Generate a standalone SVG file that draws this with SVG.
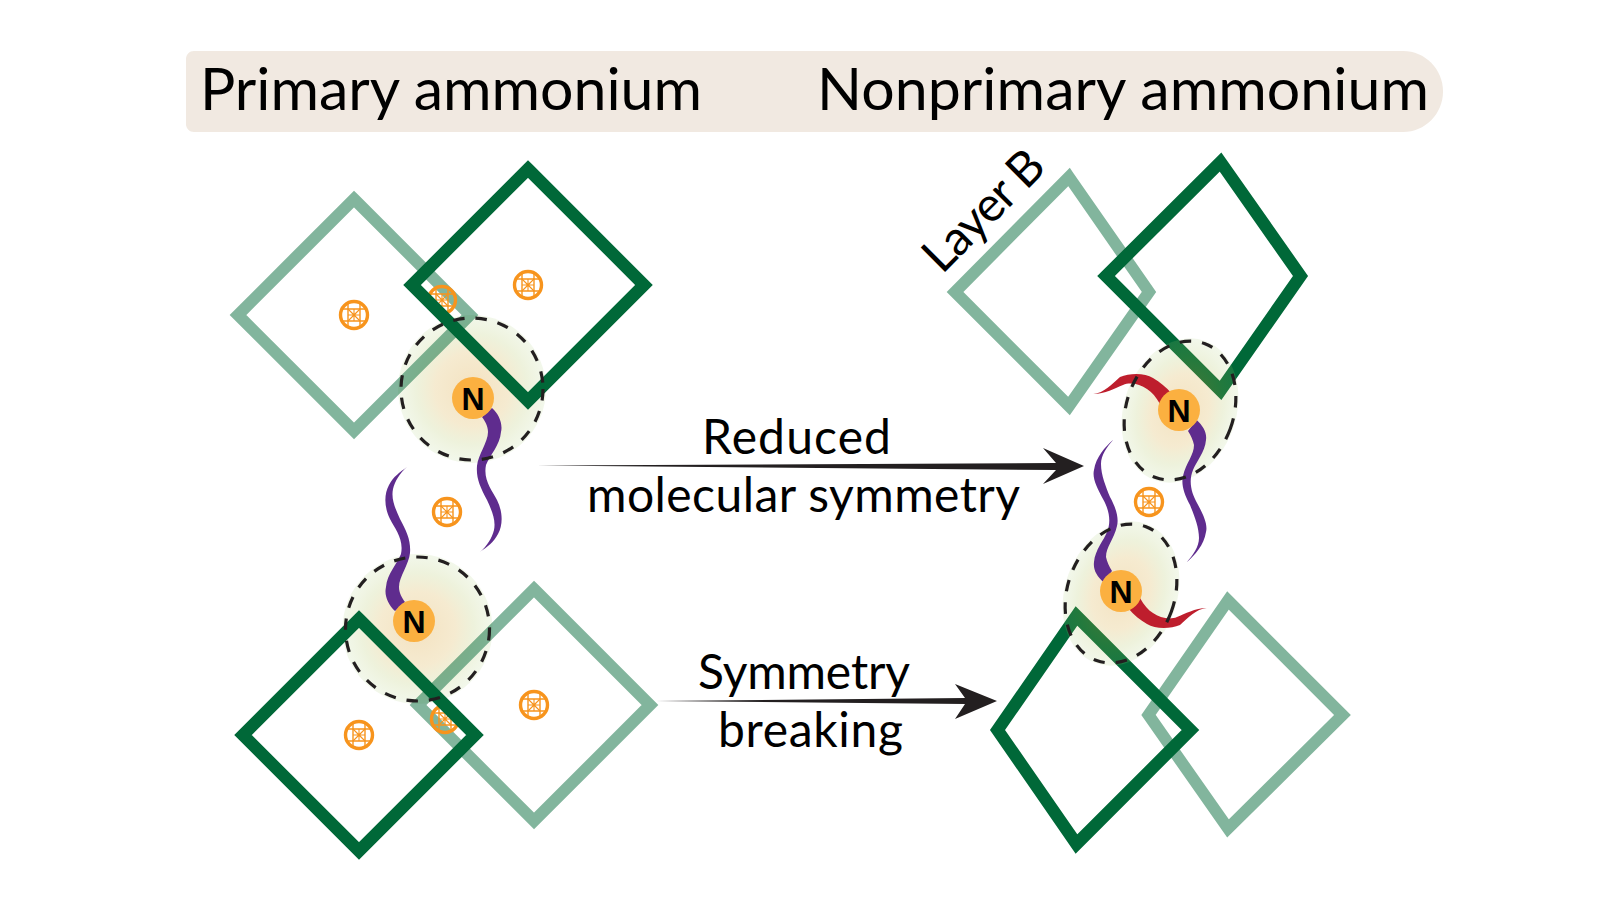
<svg xmlns="http://www.w3.org/2000/svg" xmlns:xlink="http://www.w3.org/1999/xlink" width="1601" height="901" viewBox="0 0 1601 901">
<style>
text{font-family:"Lato","Open Sans","Liberation Sans",sans-serif;fill:#000}
.hd{font-size:59px}
.lb{font-size:48px}
text.n{font-family:"Liberation Sans",Arial,sans-serif;font-weight:700;font-size:32px;text-anchor:middle}
.dk{fill:none;stroke:#006838;stroke-width:12.4;stroke-miterlimit:10}
.lt{fill:none;stroke:#006838;stroke-opacity:.49;stroke-width:11.8;stroke-miterlimit:10}
.dash{fill:none;stroke:#231f20;stroke-width:3.2;stroke-dasharray:11.5 11}
.halo{fill:url(#glow)}
.nb{fill:#fbb040}
.pu{fill:#5f2c8e}
.re{fill:#be1e2d}
.arr{fill:#231f20}
</style>
<defs>
<radialGradient id="glow" cx=".5" cy=".5" r=".5">
<stop offset="0" stop-color="rgb(215,150,30)" stop-opacity=".28"/>
<stop offset=".5" stop-color="rgb(215,170,60)" stop-opacity=".24"/>
<stop offset=".75" stop-color="rgb(170,190,80)" stop-opacity=".2"/>
<stop offset="1" stop-color="rgb(170,205,120)" stop-opacity=".15"/>
</radialGradient>
<g id="ball" fill="none" stroke="#f7941d">
<circle r="13.500" stroke-width="3.400"/>
<path stroke-width="1.400" d="M-6-12V12M6-12V12M-12-6H12M-12 6H12"/>
<path stroke-width="1.100" d="M0-6V6M-6 0H6M-6-6L6 6M-6 6L6-6"/>
</g>
<path id="tailL" d="M492 408C499 414 503 424 501 432C500 445 490 455 486 465C483 480 492 490 497 500C503 512 503 525 498 534C494 542 487 547 480 552C487 546 492 538 494 530C496 520 492 511 487 500C480 487 476 478 477 466C478 455 488 442 488 432C488 426 485 421 482 417Z"/>
<path id="tailR" d="M1196.700 420C1203 426 1207 432 1206 440C1205 452 1196 462 1193 470C1188 482 1192 494 1197 503C1203 514 1208 524 1206 532C1204 545 1195 555 1186.700 562.300C1193 555 1199 547 1199 538C1199 527 1194 515 1190 505C1184 494 1181 484 1183 476C1186 463 1194 455 1194 445C1193 440 1191 436 1188 431Z"/>
<path id="redR" d="M1093.300 394C1104 393 1112 384 1120 377C1130 373 1145 373 1153 378C1160 382 1166 387 1172 394L1160 404C1156 397 1152 392 1147 389C1140 384 1130 382 1123 385C1115 388 1105 394 1093.300 394Z"/>
</defs>

<g id="header">
<path fill="#f1e9e1" d="M194 51H1403C1425 51 1443 69 1443 91.500C1443 114 1425 132 1403 132H194C189.500 132 186 128.500 186 124V59C186 54.500 189.500 51 194 51Z"/>
<text class="hd" x="200" y="110" textLength="502">Primary ammonium</text>
<text class="hd" x="817" y="110" textLength="612">Nonprimary ammonium</text>
</g>

<g id="primary-top">
<circle class="halo" cx="472" cy="389" r="74"/>
<use xlink:href="#ball" href="#ball" x="354" y="315"/>
<use xlink:href="#ball" href="#ball" x="528" y="285"/>
<path class="lt" d="M354 199L470 315L354 431L238 315Z"/>
<use xlink:href="#ball" href="#ball" x="442" y="300"/>
<path class="dk" d="M528 169L644 285L528 401L412 285Z"/>
<use xlink:href="#tailL" href="#tailL" class="pu"/>
<circle class="dash" cx="472" cy="389" r="71"/>
<circle class="nb" cx="473" cy="398" r="21"/>
<text class="n" x="473" y="410">N</text>
</g>

<g id="primary-bottom">
<circle class="halo" cx="417.500" cy="629" r="75"/>
<use xlink:href="#ball" href="#ball" x="359" y="735"/>
<use xlink:href="#ball" href="#ball" x="534" y="705"/>
<path class="lt" d="M534 589L650 705L534 821L418 705Z"/>
<use xlink:href="#ball" href="#ball" x="445" y="719"/>
<path class="dk" d="M359 619L475 735L359 851L243 735Z"/>
<use xlink:href="#tailL" href="#tailL" class="pu" transform="rotate(180 443.500 509.500)"/>
<circle class="dash" cx="417.500" cy="629" r="72"/>
<circle class="nb" cx="414" cy="621" r="21"/>
<text class="n" x="414" y="633">N</text>
</g>

<use id="ion-left" xlink:href="#ball" href="#ball" x="447" y="512"/>

<g id="nonprimary-top">
<path class="lt" d="M1069 177L1149 292L1069 406L955 292Z"/>
<path class="dk" d="M1220.500 162L1300.500 276L1220.500 390.500L1106 276Z"/>
<ellipse class="halo" cx="1180" cy="410.500" rx="56" ry="74" transform="rotate(20 1180 410.500)"/>
<use xlink:href="#tailR" href="#tailR" class="pu"/>
<use xlink:href="#redR" href="#redR" class="re"/>
<ellipse class="dash" cx="1180" cy="410.500" rx="53.500" ry="71.300" transform="rotate(20 1180 410.500)"/>
<circle class="nb" cx="1179" cy="410" r="21"/>
<text class="n" x="1179" y="422">N</text>
<text class="lb" x="942" y="275" textLength="150" transform="rotate(-45 942 275)">Layer B</text>
</g>

<g id="nonprimary-bottom">
<path class="lt" d="M1228 600.500L1342.500 715L1228 828.500L1148.500 715Z"/>
<path class="dk" d="M1076.500 616L1190.500 730L1076.500 844L997.500 730Z"/>
<ellipse class="halo" cx="1121" cy="593.500" rx="56" ry="74" transform="rotate(20 1121 593.500)"/>
<use xlink:href="#tailR" href="#tailR" class="pu" transform="rotate(180 1150 501)"/>
<use xlink:href="#redR" href="#redR" class="re" transform="rotate(180 1150 501)"/>
<ellipse class="dash" cx="1121" cy="593.500" rx="53.500" ry="71.300" transform="rotate(20 1121 593.500)"/>
<circle class="nb" cx="1121" cy="591" r="21"/>
<text class="n" x="1121" y="603">N</text>
</g>

<use id="ion-right" xlink:href="#ball" href="#ball" x="1149" y="502"/>

<g id="connectors">
<path class="arr" d="M537 465.600L1056 463L1043 448L1084 466L1043 484L1056 470Z"/>
<path class="arr" d="M656 701L965 698L955 684L997 701L955 719L965 704Z"/>
</g>

<g id="labels">
<text class="lb" x="702" y="454" textLength="189">Reduced</text>
<text class="lb" x="587" y="512" textLength="433">molecular symmetry</text>
<text class="lb" x="698" y="689" textLength="212">Symmetry</text>
<text class="lb" x="718" y="747" textLength="185">breaking</text>
</g>
</svg>
